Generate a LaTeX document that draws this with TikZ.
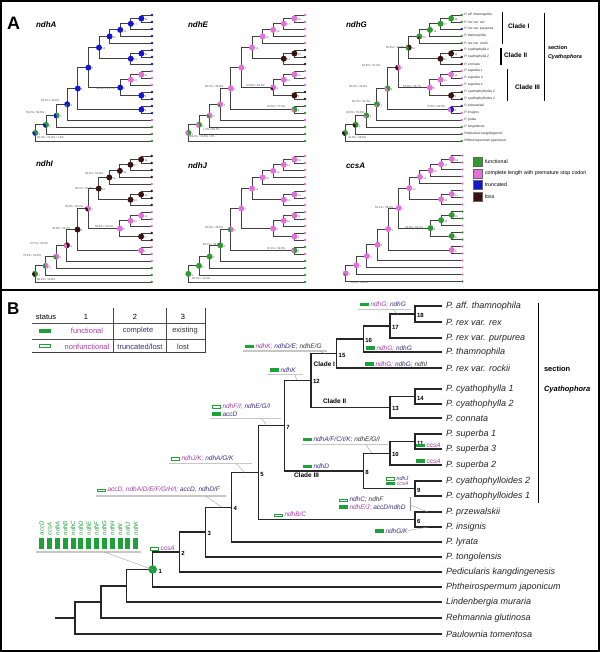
\documentclass[tikz,border=0pt]{standalone}
\usepackage{fontspec}
\setmainfont{Liberation Sans}
\usetikzlibrary{calc}
\definecolor{G}{HTML}{2F9A2F}
\definecolor{P}{HTML}{E36FD8}
\definecolor{B}{HTML}{1414D2}
\definecolor{K}{HTML}{3B1212}
\definecolor{barG}{HTML}{1FA13A}
\definecolor{txM}{HTML}{A63AA8}
\definecolor{txN}{HTML}{3A2D84}
\definecolor{txK}{HTML}{333333}
\newcommand{\fsz}[1]{\fontsize{#1}{#1}\selectfont}
\newcommand{\cM}[1]{\textcolor{txM}{#1}}
\newcommand{\cN}[1]{\textcolor{txN}{#1}}
\newcommand{\cK}[1]{\textcolor{txK}{#1}}
\newcommand{\gon}{\textcolor{barG}{\rule[0.5pt]{9pt}{3.4pt}}\hspace{1.5pt}}
\newcommand{\goff}{\textcolor{barG}{\setlength{\fboxrule}{0.6pt}\setlength{\fboxsep}{0pt}\raisebox{0.5pt}{\fbox{\rule{0pt}{2.2pt}\rule{7.8pt}{0pt}}}}\hspace{1.5pt}}
\newcommand{\apie}[4]{%
  \fill[fill=#2] (#1) circle (3.0);
  \ifnum#4>0 \fill[fill=#3] (#1) -- ++(90:3.0) arc[start angle=90,end angle={90+#4},radius=3.0] -- cycle;\fi}
\newcommand{\atree}[5]{%
  \begin{scope}[shift={(#2,#3)}]
    \foreach \i in {0,...,18}{\coordinate (#1t\i) at (0,{7*\i});}
    \coordinate (#1n18) at (-10.6,3.5);
    \coordinate (#1n17) at (-21.2,8.75);
    \coordinate (#1n16) at (-31.8,14.875);
    \coordinate (#1n15) at (-42.4,21.44);
    \coordinate (#1n14) at (-10.6,38.5);
    \coordinate (#1n13) at (-21.2,43.75);
    \coordinate (#1n12) at (-53,32.6);
    \coordinate (#1n11) at (-10.6,59.5);
    \coordinate (#1n10) at (-21.2,64.75);
    \coordinate (#1n9) at (-10.6,80.5);
    \coordinate (#1n8) at (-31.8,72.6);
    \coordinate (#1n7) at (-63.6,52.6);
    \coordinate (#1n6) at (-10.6,94.5);
    \coordinate (#1n5) at (-74.2,73.55);
    \coordinate (#1n4) at (-84.8,89.3);
    \coordinate (#1n3) at (-95.4,100.6);
    \coordinate (#1n2) at (-106,109.8);
    \coordinate (#1n1) at (-116.6,117.9);
  \end{scope}
  \foreach \p/\q in {n18/t0,n18/t1,n17/n18,n17/t2,n16/n17,n16/t3,n15/n16,n15/t4,n14/t5,n14/t6,n13/n14,n13/t7,n12/n15,n12/n13,n11/t8,n11/t9,n10/n11,n10/t10,n9/t11,n9/t12,n8/n10,n8/n9,n7/n12,n7/n8,n6/t13,n6/t14,n5/n7,n5/n6,n4/n5,n4/t15,n3/n4,n3/t16,n2/n3,n2/t17,n1/n2,n1/t18}
    {\draw[abr] (#1\p) |- (#1\q);}
  \foreach \c [count=\k from 0] in {#5}{\fill[fill=\c] (#1t\k) circle (1.3);}
  \foreach \ca/\cb/\dg [count=\k] in {#4}{\apie{#1n\k}{\ca}{\cb}{\dg}
    \node[nnum,anchor=west] (#1lab\k) at ([xshift=3.4pt,yshift=-1.3pt]#1n\k) {\k};}
}
\begin{document}
\begin{tikzpicture}[x=1pt,y=-1pt,
  every node/.style={inner sep=0pt,outer sep=0pt},
  abr/.style={draw=gray!50!black,line width=0.85pt},
  nnum/.style={font=\fsz{2.6},text=gray!60!black},
  pct/.style={font=\fsz{2.8},text=gray!60!black,anchor=west},
  tlab/.style={font=\fsz{8}\bfseries\itshape,anchor=west},
  gtl/.style={font=\fsz{3.3}\itshape,anchor=west,text=gray!30!black},
  bbr/.style={draw=black!85,line width=1.4pt},
  btl/.style={font=\fsz{9}\itshape,anchor=west,text=black!85},
  bnum/.style={font=\fsz{6}\bfseries,anchor=west},
  clade/.style={font=\fsz{6.5}\bfseries},
  ann/.style={font=\fsz{6.5}\itshape,anchor=west},
  annS/.style={font=\fsz{5.5}\itshape,anchor=west},
  uline/.style={draw=black!22,line width=1.3pt},
  conn/.style={draw=black!40,line width=0.35pt},
  ltab/.style={font=\fsz{7.5}},
  tline/.style={draw=black!70,line width=0.7pt},
  alg/.style={font=\fsz{5.3},anchor=west},
  asq/.style={draw=black!60,line width=0.3pt}]
\useasboundingbox (0,0) rectangle (600,652);
\fill[white] (0,0) rectangle (600,652);
\draw[line width=1.6pt] (1,1) rectangle (599,651);
\draw[line width=1.6pt] (1,290) -- (599,290);

% ---------------- Panel A ----------------
\node[font=\fsz{18}\bfseries,anchor=west] (labA) at (7,23) {A};
\node[tlab] (tA) at (36,25) {ndhA};
\node[tlab] (tE) at (188,25) {ndhE};
\node[tlab] (tG) at (346,25) {ndhG};
\node[tlab] (tI) at (36,164) {ndhI};
\node[tlab] (tJ) at (188,166) {ndhJ};
\node[tlab] (tC) at (346,166) {ccsA};

\atree{A}{152}{15}{G/B/120,G/B/120,G/B/150,B/G/60,B/B/0,B/B/0,B/B/0,B/B/0,B/B/0,P/P/0,P/P/0,B/B/0,B/B/0,B/B/0,B/B/0,B/B/0,B/B/0,B/B/0}{B,B,B,B,B,B,B,B,P,P,P,B,B,B,B,P,G,G,G}
\atree{E}{305}{15}{G/P/150,G/P/150,P/G/120,P/G/90,P/P/0,G/P/120,P/P/0,P/K/90,K/K/0,P/P/0,P/P/0,P/P/0,K/K/0,K/K/0,P/P/0,P/P/0,P/P/0,P/P/0}{P,P,P,P,P,K,K,K,P,P,P,K,K,G,G,P,G,G,G}
\atree{G}{461.7}{15}{G/K/120,G/K/120,G/P/90,G/P/60,G/P/120,B/P/150,P/K/150,P/P/0,K/K/0,P/P/0,P/P/0,K/G/150,K/K/0,K/K/0,G/K/60,G/G/0,G/G/0,G/G/0}{G,G,B,G,G,K,K,K,P,P,P,K,K,B,P,P,G,G,G}
\atree{I}{151.7}{156}{G/K/150,P/G/150,P/G/120,K/P/150,K/K/0,P/P/0,P/K/120,P/P/0,K/K/0,P/P/0,P/P/0,K/K/0,K/K/0,K/K/0,K/K/0,K/K/0,K/K/0,K/K/0}{K,K,K,K,P,K,K,K,P,P,P,K,K,P,P,P,G,G,G}
\atree{J}{305}{156}{G/G/0,G/G/0,G/G/0,G/G/0,P/G/150,G/P/150,P/P/0,P/P/0,P/P/0,P/P/0,P/P/0,P/P/0,P/P/0,P/P/0,P/P/0,P/P/0,P/P/0,P/P/0}{P,P,P,P,P,P,P,P,P,P,P,P,P,G,P,G,G,G,G}
\atree{C}{462.3}{155.5}{P/G/60,P/P/0,P/P/0,P/P/0,P/P/0,P/P/0,P/P/0,G/G/0,G/G/0,G/G/0,G/G/0,P/P/0,P/P/0,P/P/0,P/P/0,P/P/0,P/P/0,P/P/0}{P,P,P,P,P,P,P,P,G,G,P,G,G,P,P,P,P,P,G}

% percentages (panel A)
\node[pct] (pa1) at (41,100.7) {56.2\% / 43.8\%};
\node[pct] (pa2) at (26,112.7) {59.5\% / 39.8\%};
\node[pct] (pa3) at (37,137.5) {26.3\% / 72.2\% / 1.5\%};
\node[pct] (pa4) at (96.7,88.3) {18.3\% / 81.7\%};
\node[pct] (pe1) at (205,87) {60.1\% / 39.9\%};
\node[pct] (pe2) at (246.7,85.7) {53.8\% / 46.2\%};
\node[pct] (pe3) at (267,107) {23.0\% / 77.0\%};
\node[pct] (pe4) at (203,130) {1.3\% / 98.7\%};
\node[pct] (pe5) at (190,137) {89.2\% / 10.8\% / 0\%};
\node[pct] (pg1) at (386,48) {50.6\% / 49.4\%};
\node[pct] (pg2) at (362,66) {62.6\% / 37.4\%};
\node[pct] (pg3) at (349,87) {55.4\% / 44.6\%};
\node[pct] (pg4) at (403,87) {54.3\% / 45.7\%};
\node[pct] (pg5) at (352,101.5) {58.7\% / 41.3\%};
\node[pct] (pg6) at (427,107) {37.5\% / 62.5\%};
\node[pct] (pg7) at (346,113) {46.2\% / 53.8\%};
\node[pct] (pg8) at (348,137.3) {41.5\% / 58.5\%};
\node[pct] (pi1) at (85,174) {48.2\% / 51.8\%};
\node[pct] (pi2) at (75,188) {38.7\% / 61.3\%};
\node[pct] (pi3) at (65,206) {35.8\% / 64.2\%};
\node[pct] (pi4) at (52,228) {46.3\% / 53.7\%};
\node[pct] (pi5) at (95,226) {56.8\% / 43.2\%};
\node[pct] (pi6) at (30,243) {47.7\% / 52.3\%};
\node[pct] (pi7) at (23,255) {75.2\% / 24.8\%};
\node[pct] (pi8) at (37,279) {86.2\% / 13.8\%};
\node[pct] (pj1) at (205,227) {53.5\% / 46.5\%};
\node[pct] (pj2) at (203,244) {66.7\% / 33.3\%};
\node[pct] (pj3) at (267,248) {67.1\% / 32.9\%};
\node[pct] (pj4) at (192,278) {85.1\% / 14.9\%};
\node[pct] (pc1) at (375,207) {53.1\% / 46.9\%};
\node[pct] (pc2) at (405,227) {46.9\% / 53.1\%};
\node[pct] (pc3) at (350,282) {51.6\% / 48.4\%};

% ndhG taxa
\foreach \t [count=\k from 0] in {P. aff. thamnophila,P. rex var. rex,P. rex var. purpurea,P. thamnophila,P. rex var. rockii,P. cyathophylla 1,P. cyathophylla 2,P. connata,P. superba 1,P. superba 3,P. superba 2,P. cyathophylloides 2,P. cyathophylloides 1,P. przewalskii,P. insignis,P. lyrata,P. tongolensis,Pedicularis kangdingensis,Phtheirospermum japonicum}
  {\node[gtl] (gl\k) at ([xshift=2.6pt]Gt\k) {\t};}
\draw[line width=1.1pt] (502.7,12) -- (502.7,44);
\node[clade,anchor=west] (gc1) at (508,26) {Clade I};
\draw[line width=1.1pt] (501,48) -- (501,65);
\node[clade,anchor=west] (gc2) at (504,55) {Clade II};
\draw[line width=0.6pt] (507.7,69) -- (507.7,101);
\node[clade,anchor=west] (gc3) at (515,87) {Clade III};
\draw[line width=1.1pt] (544.3,13) -- (544.3,101);
\node[font=\fsz{5.5}\bfseries,anchor=west] (gsec1) at (548,48) {section};
\node[font=\fsz{5.5}\bfseries\itshape,anchor=west] (gsec2) at (548,57) {Cyathophora};

% legend panel A
\filldraw[asq,fill=G] (473,157) rectangle (482,166);
\filldraw[asq,fill=P] (473,169) rectangle (482,178);
\filldraw[asq,fill=B] (473,180.5) rectangle (482,189.5);
\filldraw[asq,fill=K] (473,192) rectangle (482,201);
\node[alg] (lg1) at (485,161.5) {functional};
\node[alg] (lg2) at (485,173.5) {complete length with premature stop codon};
\node[alg] (lg3) at (485,185) {truncated};
\node[alg] (lg4) at (485,196.5) {loss};

% ---------------- Panel B ----------------
\node[font=\fsz{17}\bfseries,anchor=west] (labB) at (7,309) {B};

% legend table
\draw[tline] (31.7,323.3) -- (205.7,323.3);
\draw[tline] (31.7,339) -- (205.7,339);
\draw[draw=black!75,line width=1.1pt] (31.7,352.7) -- (205.7,352.7);
\draw[tline] (113.3,308.3) -- (113.3,352.7);
\draw[tline] (166.7,308.3) -- (166.7,352.7);
\draw[draw=black!75,line width=1.1pt] (205.7,308.3) -- (205.7,352.7);
\node[ltab] (th0) at (46,317) {status};
\node[ltab] (th1) at (86,317) {1};
\node[ltab] (th2) at (135,317) {2};
\node[ltab] (th3) at (183,317) {3};
\fill[barG] (39.3,329.3) rectangle (50.7,332.7);
\draw[barG,line width=0.7pt] (39.3,344.8) rectangle (50.7,347.8);
\node[ltab,text=txM] (tr1) at (87,331) {functional};
\node[ltab,text=txN] (tr2) at (138,331) {complete};
\node[ltab,text=txK] (tr3) at (185,331) {existing};
\node[ltab,text=txM] (tr4) at (87,346.5) {nonfunctional};
\node[ltab,text=txN] (tr5) at (140,346.5) {truncated/lost};
\node[ltab,text=txK] (tr6) at (183,346.5) {lost};

% tree coordinates
\foreach \yy [count=\k] in {306,322,338,352,368,389,404,418,434,449,465,481,496,512,527,542,557,572,587,602,618,634}
  {\coordinate (bt\k) at (441.7,\yy);}
\coordinate (bn18) at (415,314);
\coordinate (bn17) at (390,326);
\coordinate (bn16) at (363.3,339);
\coordinate (bn15) at (336.7,353.5);
\coordinate (bn14) at (415,396.5);
\coordinate (bn13) at (390,407.25);
\coordinate (bn12) at (311,380.4);
\coordinate (bn11) at (415,441.5);
\coordinate (bn10) at (390,453.25);
\coordinate (bn9) at (415,488.5);
\coordinate (bn8) at (363.3,470.9);
\coordinate (bn7) at (284.3,425.6);
\coordinate (bn6) at (415,519.5);
\coordinate (bn5) at (258.3,472.6);
\coordinate (bn4) at (231.7,507.3);
\coordinate (bn3) at (205.7,532.1);
\coordinate (bn2) at (179.3,552);
\coordinate (bn1) at (152.7,569.5);
\coordinate (bnc) at (126.7,585.8);
\coordinate (bnb) at (101,601.9);
\coordinate (bna) at (75,618);
\coordinate (broot) at (55,618);
\foreach \p/\q in {bn18/bt1,bn18/bt2,bn17/bn18,bn17/bt3,bn16/bn17,bn16/bt4,bn15/bn16,bn15/bt5,bn14/bt6,bn14/bt7,bn13/bn14,bn13/bt8,bn12/bn15,bn12/bn13,bn11/bt9,bn11/bt10,bn10/bn11,bn10/bt11,bn9/bt12,bn9/bt13,bn8/bn10,bn8/bn9,bn7/bn12,bn7/bn8,bn6/bt14,bn6/bt15,bn5/bn7,bn5/bn6,bn4/bn5,bn4/bt16,bn3/bn4,bn3/bt17,bn2/bn3,bn2/bt18,bn1/bn2,bn1/bt19,bnc/bn1,bnc/bt20,bnb/bnc,bnb/bt21,bna/bnb,bna/bt22}
  {\draw[bbr] (\p) |- (\q);}
\draw[bbr] (broot) -- (bna);

\foreach \t [count=\k] in {P. aff. thamnophila,P. rex var. rex,P. rex var. purpurea,P. thamnophila,P. rex var. rockii,P. cyathophylla 1,P. cyathophylla 2,P. connata,P. superba 1,P. superba 3,P. superba 2,P. cyathophylloides 2,P. cyathophylloides 1,P. przewalskii,P. insignis,P. lyrata,P. tongolensis,Pedicularis kangdingenesis,Phtheirospermum japonicum,Lindenbergia muraria,Rehmannia glutinosa,Paulownia tomentosa}
  {\node[btl] (bl\k) at ([xshift=4.5pt]bt\k) {\t};}

\foreach \k in {2,...,18}{\node[bnum] (bnl\k) at ([xshift=2pt,yshift=-1.5pt]bn\k) {\k};}
\fill[barG] (bn1) circle (4.3);
\node[bnum] (bnl1) at ([xshift=6pt,yshift=-1.5pt]bn1) {1};

\node[clade,anchor=east] (cl1) at (335,364) {Clade I};
\node[clade,anchor=west] (cl2) at (323,401.5) {Clade II};
\node[clade,anchor=west] (cl3) at (294,475.5) {Clade III};

\draw[line width=1.1pt] (538.3,303) -- (538.3,503);
\node[font=\fsz{7.5}\bfseries,anchor=west] (sec1) at (544,369) {section};
\node[font=\fsz{7.5}\bfseries\itshape,anchor=west] (sec2) at (544,389.5) {Cyathophora};

% annotations
\coordinate (c1) at (398,314);
\coordinate (c4) at (325,353.5);
\coordinate (c5) at (297,380.4);
\coordinate (c6) at (267,425.6);
\coordinate (c7) at (245,472.6);
\coordinate (c8) at (222,507.3);
\coordinate (c12) at (372,453.25);
\coordinate (c15) at (428,512);
\coordinate (c17) at (428,527);

\node[ann] (a1) at (360,305) {\gon\cM{ndhG;} \cN{ndhG}};
\draw[uline] (358,309.5) -- (411,309.5);
\draw[conn] (393,309.8) -- (c1);

\node[ann] (a2) at (366,348.3) {\gon\cM{ndhG;} \cN{ndhG}};
\node[ann] (a3) at (365,364.3) {\gon\cM{ndhG;} \cN{ndhG;} \cK{ndhI}};

\node[ann] (a4) at (245,346.5) {\gon\cM{ndhK;} \cN{ndhD/E;} \cK{ndhE/G}};
\draw[uline] (243,351) -- (327,351);
\draw[conn] (320,351.3) -- (c4);

\node[ann] (a5) at (270,370) {\gon\cN{ndhK}};
\draw[uline] (267,374.5) -- (303,374.5);
\draw[conn] (295,374.8) -- (c5);

\node[ann] (a6a) at (212,406.5) {\goff\cM{ndhF/I;} \cN{ndhE/G/I}};
\node[ann] (a6b) at (212,414) {\gon\cN{accD}};
\draw[uline] (210,418.7) -- (281,418.7);
\draw[conn] (262,419) -- (c6);

\node[ann] (a7) at (171,458.3) {\goff\cM{ndhJ/K;} \cN{ndhA/G/K}};
\draw[uline] (169,463.2) -- (252,463.2);
\draw[conn] (236,463.5) -- (c7);

\node[ann] (a8) at (97,490) {\goff\cM{accD, ndhA/D/E/F/G/H/I;} \cN{accD, ndhD/F}};
\draw[uline] (96,496) -- (226,496);
\draw[conn] (206,496.3) -- (c8);

\node[ann] (a9) at (150,548) {\goff\cM{ccsA}};

% ancestral gene set
\foreach \g [count=\k from 0] in {accD,ccsA,ndhA,ndhB,ndhC,ndhD,ndhE,ndhF,ndhG,ndhH,ndhI,ndhJ,ndhK}
  {\fill[barG] ({41.7+7.83*\k-2.5},537.7) rectangle ++(5,11.6);
   \node[font=\fsz{6}\itshape,text=barG,rotate=90,anchor=west] (vg\k) at ({41.7+7.83*\k},535.3) {\g};}
\draw[uline] (36,552) -- (141,552);
\draw[conn] (105,552.3) -- (bn1);

\node[ann] (a11) at (303,466.5) {\gon\cN{ndhD}};
\node[ann] (a12) at (303,440) {\gon\cN{ndhA/F/C/I/K;} \cK{ndhE/G/I}};
\draw[uline] (302,444.5) -- (388,444.5);
\draw[conn] (366,444.8) -- (c12);

\node[ann] (a13a) at (416,445.3) {\gon\cM{ccsA}};
\node[ann] (a13b) at (416,461) {\gon\cM{ccsA}};

\node[annS] (a14a) at (386,478.3) {\goff\cN{ndhJ}};
\node[annS] (a14b) at (386,483.8) {\gon\cM{ccsA}};

\node[ann] (a15a) at (339,500) {\goff\cN{ndhC;} \cK{ndhF}};
\node[ann] (a15b) at (339,507.3) {\gon\cM{ndhE/J;} \cN{accD/ndhD}};
\draw[draw=black!45,line width=0.6pt] (410,497) -- (410,511);
\draw[conn] (410,505) -- (c15);

\node[ann] (a16) at (274,514.5) {\goff\cM{ndhB/C}};

\node[ann] (a17) at (375,530.7) {\gon\cN{ndhG/K}};
\draw[conn] (a17.east) -- (c17);
\end{tikzpicture}
\end{document}
